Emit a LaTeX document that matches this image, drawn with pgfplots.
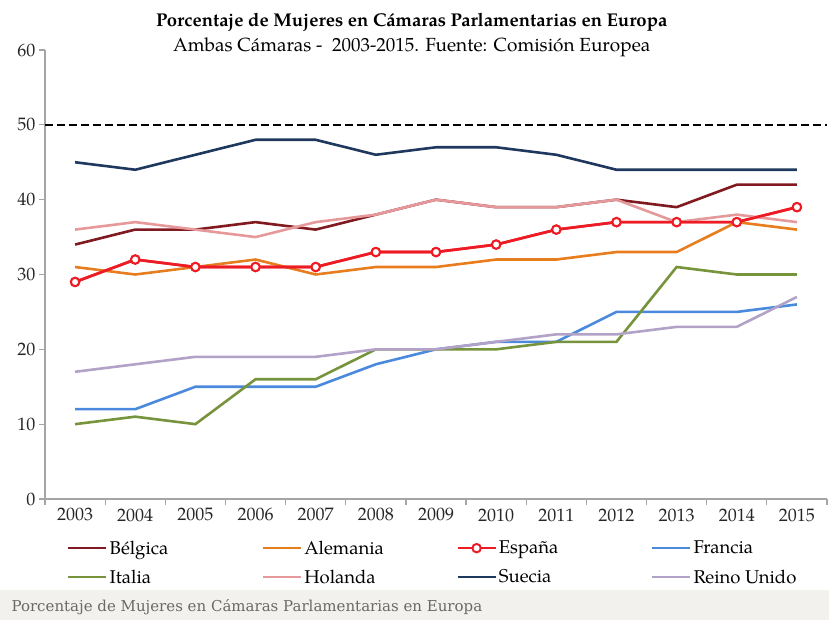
\documentclass[border=0pt]{standalone}
\usepackage{fontspec}
\setmainfont{TeX Gyre Pagella}
\newfontfamily\capfont{DejaVu Serif}
\usepackage{pgfplots}
\pgfplotsset{compat=1.18}

\definecolor{belg}{RGB}{128,26,32}
\definecolor{alem}{RGB}{232,125,30}
\definecolor{espa}{RGB}{237,28,36}
\definecolor{fran}{RGB}{74,137,220}
\definecolor{ital}{RGB}{119,147,60}
\definecolor{hola}{RGB}{230,153,155}
\definecolor{suec}{RGB}{31,56,94}
\definecolor{reino}{RGB}{179,162,199}
\definecolor{axgray}{RGB}{165,165,165}
\definecolor{capbg}{RGB}{243,241,237}
\definecolor{capgray}{RGB}{105,105,105}

\begin{document}
\begin{tikzpicture}
\path[use as bounding box] (0pt,0pt) rectangle (829pt,620pt);
\fill[capbg] (0pt,0pt) rectangle (829pt,30pt);
\node[anchor=west, font=\capfont\fontsize{15}{17}\selectfont, text=capgray] at (8pt,13pt)
  {Porcentaje de Mujeres en Cámaras Parlamentarias en Europa};
\begin{axis}[
    at={(45pt,121pt)}, anchor=south west,
    scale only axis, width=782pt, height=449pt,
    xmin=2002.5, xmax=2015.5, ymin=0, ymax=60,
    axis lines=left,
    axis line style={-, draw=axgray, line width=1.3pt},
    xtick={2002.5,2003.5,2004.5,2005.5,2006.5,2007.5,2008.5,2009.5,2010.5,2011.5,2012.5,2013.5,2014.5,2015.5},
    x tick label as interval,
    xticklabels={2003,2004,2005,2006,2007,2008,2009,2010,2011,2012,2013,2014,2015},
    ytick={0,10,20,30,40,50,60},
    tick align=outside,
    tick style={draw=axgray, line width=1.2pt},
    major tick length=6pt,
    ticklabel style={font=\fontsize{18}{20}\selectfont, text=black!85},
    /pgf/number format/assume math mode=true,
    title={\textbf{\fontsize{18.5}{25}\selectfont Porcentaje de Mujeres en Cámaras Parlamentarias en Europa}\\
           Ambas Cámaras -\ \ 2003-2015. Fuente: Comisión Europea},
    title style={align=center, at={(0.469,1)}, anchor=south, yshift=-13pt,
                 inner sep=0pt, font=\fontsize{19}{25}\selectfont},
    legend columns=4,
    legend cell align=left,
    legend style={draw=none, fill=none, at={(0.028,-0.088)}, anchor=north west,
                  font=\fontsize{18.5}{20}\selectfont, row sep=10pt, inner sep=0pt},
    legend image code/.code={
        \draw[#1, mark repeat=2, mark phase=2]
        plot coordinates {(0pt,0pt) (19pt,0pt) (38pt,0pt)};},
    every axis plot/.append style={line width=2.6pt},
]
% reference line at 50 %
\addplot[black, dash pattern=on 8pt off 4pt, line width=2pt, forget plot]
    coordinates {(2002.5,50)(2015.5,50)};

\addplot[belg, mark=none] coordinates {
    (2003,34)(2004,36)(2005,36)(2006,37)(2007,36)(2008,38)(2009,40)
    (2010,39)(2011,39)(2012,40)(2013,39)(2014,42)(2015,42)};
\addlegendentry{\makebox[150pt][l]{Bélgica}}

\addplot[alem, mark=none] coordinates {
    (2003,31)(2004,30)(2005,31)(2006,32)(2007,30)(2008,31)(2009,31)
    (2010,32)(2011,32)(2012,33)(2013,33)(2014,37)(2015,36)};
\addlegendentry{\makebox[150pt][l]{Alemania}}

\addplot[espa, mark=*, mark size=4.2pt, mark options={fill=white, draw=espa, line width=2pt}] coordinates {
    (2003,29)(2004,32)(2005,31)(2006,31)(2007,31)(2008,33)(2009,33)
    (2010,34)(2011,36)(2012,37)(2013,37)(2014,37)(2015,39)};
\addlegendentry{\makebox[150pt][l]{España}}

\addplot[fran, mark=none] coordinates {
    (2003,12)(2004,12)(2005,15)(2006,15)(2007,15)(2008,18)(2009,20)
    (2010,21)(2011,21)(2012,25)(2013,25)(2014,25)(2015,26)};
\addlegendentry{\makebox[150pt][l]{Francia}}

\addplot[ital, mark=none] coordinates {
    (2003,10)(2004,11)(2005,10)(2006,16)(2007,16)(2008,20)(2009,20)
    (2010,20)(2011,21)(2012,21)(2013,31)(2014,30)(2015,30)};
\addlegendentry{\makebox[150pt][l]{Italia}}

\addplot[hola, mark=none] coordinates {
    (2003,36)(2004,37)(2005,36)(2006,35)(2007,37)(2008,38)(2009,40)
    (2010,39)(2011,39)(2012,40)(2013,37)(2014,38)(2015,37)};
\addlegendentry{\makebox[150pt][l]{Holanda}}

\addplot[suec, mark=none] coordinates {
    (2003,45)(2004,44)(2005,46)(2006,48)(2007,48)(2008,46)(2009,47)
    (2010,47)(2011,46)(2012,44)(2013,44)(2014,44)(2015,44)};
\addlegendentry{\makebox[150pt][l]{Suecia}}

\addplot[reino, mark=none] coordinates {
    (2003,17)(2004,18)(2005,19)(2006,19)(2007,19)(2008,20)(2009,20)
    (2010,21)(2011,22)(2012,22)(2013,23)(2014,23)(2015,27)};
\addlegendentry{\makebox[150pt][l]{Reino Unido}}

% España again on top of the other lines
\addplot[espa, mark=*, mark size=4.2pt, mark options={fill=white, draw=espa, line width=2pt}, forget plot] coordinates {
    (2003,29)(2004,32)(2005,31)(2006,31)(2007,31)(2008,33)(2009,33)
    (2010,34)(2011,36)(2012,37)(2013,37)(2014,37)(2015,39)};
\end{axis}
\end{tikzpicture}
\end{document}
